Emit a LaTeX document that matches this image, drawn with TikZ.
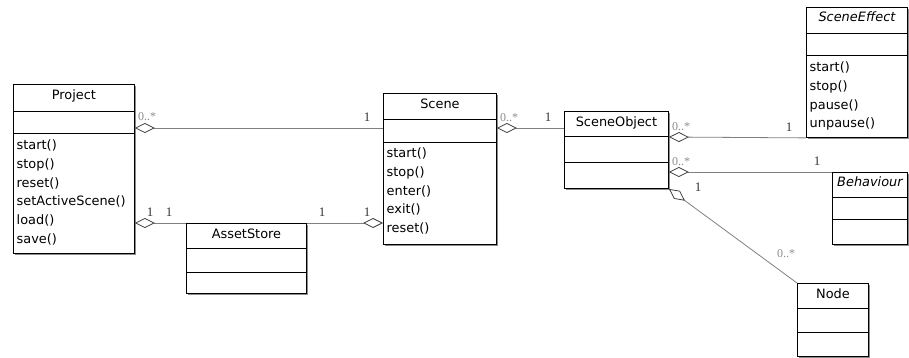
\documentclass[tikz,border=0pt]{standalone}
\usepackage{fontspec}
\setmainfont{DejaVu Sans}
\newfontfamily\multfont{Liberation Serif}
\usetikzlibrary{arrows.meta,calc,shadows}

% one UML class: name, x, y (top left), width, height, first and second separator offsets, title, title baseline offset
\newcommand\umlclass[9]{%
  \node[classbox, minimum width=#4pt, minimum height=#5pt] (#1) at (#2,#3) {};
  \node[classtitle] (#1-title) at ($(#1.north)+(0,#9)$) {#8};
  \draw[compsep] ($(#1.north west)+(0,#6)$) -- ($(#1.north east)+(0,#6)$);
  \draw[compsep] ($(#1.north west)+(0,#7)$) -- ($(#1.north east)+(0,#7)$);
}
% operations of a class: name, baseline offset of the first line, list
\newcommand\umlops[3]{%
  \foreach \m [count=\k] in {#3} {
    \node[operation] (#1-op\k) at ($(#1.north west)+(3.5,{#2+(\k-1)*18.8})$) {\m};
  }
}

\begin{document}
\begin{tikzpicture}[x=1pt,y=-1pt,
  classbox/.style={draw=black, line width=0.9pt, fill=white, inner sep=0pt,
    anchor=north west,
    drop shadow={shadow xshift=1.2pt, shadow yshift=-1.2pt, fill=black!45, opacity=1}},
  classtitle/.style={font=\fontsize{12.9}{15}\selectfont, anchor=base, inner sep=0pt},
  operation/.style={font=\fontsize{12.9}{15}\selectfont, anchor=base west, inner sep=0pt},
  compsep/.style={draw=black, line width=0.8pt},
  assoc/.style={draw=black!50, line width=0.8pt},
  aggr/.style={assoc, {Diamond[open, length=20pt, width=10pt, line width=0.8pt, color=black!75]}-},
  mult/.style={font=\multfont\fontsize{13}{15}\selectfont, text=black!80, inner sep=0pt, anchor=base},
  many/.style={font=\multfont\fontsize{12}{14}\selectfont, text=black!45, inner sep=0pt, anchor=base west}
]
\useasboundingbox (0,0) rectangle (909,358);

% classes
\umlclass{project}{13}{84}{121}{169}{27}{49}{Project}{16}
\umlops{project}{65.5}{{start()},{stop()},{reset()},{setActiveScene()},{load()},{save()}}

\umlclass{asset}{186}{223}{120}{70}{25}{49}{AssetStore}{15.5}

\umlclass{scene}{383}{93}{113}{151}{26}{49}{Scene}{15.5}
\umlops{scene}{64.5}{{start()},{stop()},{enter()},{exit()},{reset()}}

\umlclass{sceneobj}{564}{111}{104}{77}{25}{51}{SceneObject}{15.5}

\umlclass{effect}{806}{7}{101}{130}{26}{48}{\itshape SceneEffect}{15}
\umlops{effect}{64.5}{{start()},{stop()},{pause()},{unpause()}}

\umlclass{behaviour}{832}{172}{75}{72}{25}{47}{\itshape Behaviour}{14}

\umlclass{gnode}{797}{283}{71}{73}{25}{49}{Node}{15.5}

% associations
\draw[aggr] ($(project.north east)+(0,44)$) -- ($(scene.north west)+(0,35)$);
\draw[aggr] ($(project.north east)+(0,139)$) -- (asset.north west);
\draw[aggr] ($(scene.north west)+(0,130)$) -- (asset.north east);
\draw[aggr] ($(scene.north east)+(0,35)$) -- ($(sceneobj.north west)+(0,17)$);
\draw[aggr] ($(sceneobj.north east)+(0,26)$) -- (effect.south west);
\draw[aggr] ($(sceneobj.north east)+(0,61)$) -- (behaviour.north west);
\draw[aggr] (sceneobj.south east) -- (gnode.north west);

% multiplicities
\node[many] (m-ps-a) at (138,121) {0..*};
\node[mult] (m-ps-b) at (367,122) {1};
\node[mult] (m-pa-a) at (150,216) {1};
\node[mult] (m-pa-b) at (169,216) {1};
\node[mult] (m-sa-a) at (322,216) {1};
\node[mult] (m-sa-b) at (367,216) {1};
\node[many] (m-so-a) at (500,122) {0..*};
\node[mult] (m-so-b) at (548,122) {1};
\node[many] (m-se-a) at (672,131) {0..*};
\node[mult] (m-se-b) at (789,132) {1};
\node[many] (m-sb-a) at (672,166) {0..*};
\node[mult] (m-sb-b) at (817,166) {1};
\node[mult] (m-sn-a) at (698,191) {1};
\node[many] (m-sn-b) at (777,257) {0..*};
\end{tikzpicture}
\end{document}
